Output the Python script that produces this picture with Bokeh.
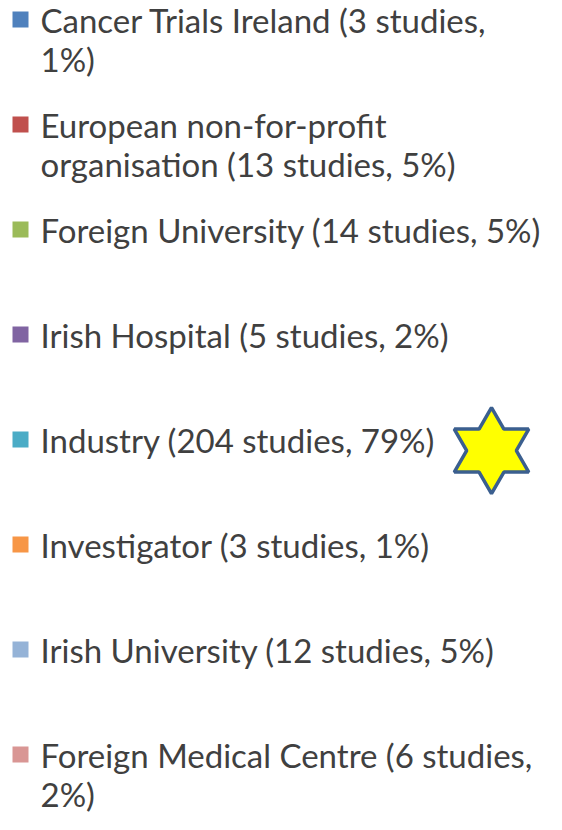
import numpy as np
from bokeh.plotting import figure
from bokeh.models import Range1d
from bokeh.core.properties import value
from bokeh.embed import file_html
from bokeh.resources import INLINE

# ---- data ----
categories = [
    "Cancer Trials Ireland",
    "European non-for-profit organisation",
    "Foreign University",
    "Irish Hospital",
    "Industry",
    "Investigator",
    "Irish University",
    "Foreign Medical Centre",
]
studies = [3, 13, 14, 5, 204, 3, 12, 6]
percents = [1, 5, 5, 2, 79, 1, 5, 2]
colors = ["#4F81BD", "#C0504D", "#9BBB59", "#8064A2", "#4BACC6", "#F79646", "#95B3D7", "#D99694"]
labels = [
    "Cancer Trials Ireland (3 studies,\n1%)",
    "European non-for-profit\norganisation (13 studies, 5%)",
    "Foreign University (14 studies, 5%)",
    "Irish Hospital (5 studies, 2%)",
    "Industry (204 studies, 79%)",
    "Investigator (3 studies, 1%)",
    "Irish University (12 studies, 5%)",
    "Foreign Medical Centre (6 studies,\n2%)",
]

# ---- layout ----
W, H = 546, 814
p = figure(width=W, height=H, output_backend="svg", toolbar_location=None,
           x_range=Range1d(8, 8 + W), y_range=Range1d(8 + H, 8),
           min_border=0)
p.axis.visible = False
p.grid.visible = False
p.outline_line_color = None
p.background_fill_color = "white"
p.border_fill_color = "white"

top = 27
step = 105
line_gap = 39
ys = [top + i * step for i in range(len(categories))]

p.scatter(x=[28] * len(ys), y=ys, marker="square", size=16,
          fill_color=colors, line_color=None)

tx, ty, tt = [], [], []
for y, lab in zip(ys, labels):
    for j, ln in enumerate(lab.split("\n")):
        tx.append(48)
        ty.append(y + j * line_gap)
        tt.append(ln)
p.text(x=tx, y=ty, text=tt, text_font=value("Lato"), text_font_size="33px",
       text_color="#404040", text_baseline="middle", text_align="left")

# ---- six-pointed star next to the largest category ----
imax = int(np.argmax(studies))
cx, cy, R = 499, ys[imax] + 11, 43
r = R / np.sqrt(3)
ang = np.pi / 2 + np.arange(12) * np.pi / 6
rad = np.where(np.arange(12) % 2 == 0, R, r)
sx = cx + rad * np.cos(ang)
sy = cy - rad * np.sin(ang)
p.patch(x=list(sx), y=list(sy), fill_color="#FFFF00", line_color="#3B5F8F", line_width=3.5)

open("out.html", "w").write(file_html(p, INLINE))
